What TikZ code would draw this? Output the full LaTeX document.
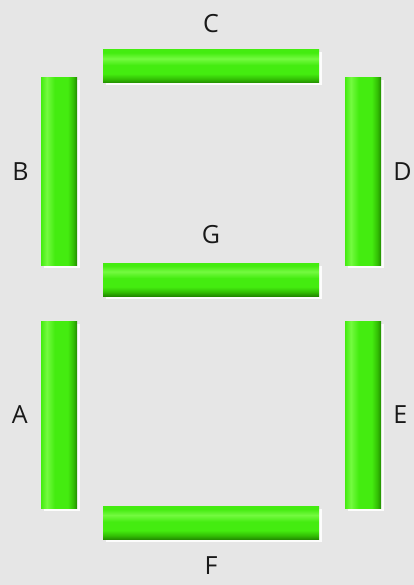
\documentclass[tikz,border=0pt]{standalone}
\usepackage{fontspec}
\setmainfont{Open Sans}
\usetikzlibrary{positioning,shadows}
\definecolor{bg}{HTML}{E6E6E6}
\definecolor{ledhi}{HTML}{74FA40}
\definecolor{led}{HTML}{44EC10}
\definecolor{ledmd}{HTML}{32BE04}
\definecolor{leddk}{HTML}{228A00}
% bars: path spans 25bp..75bp of the shading
\pgfdeclareverticalshading{hled}{100bp}{color(0bp)=(leddk); color(25bp)=(leddk);
  color(31bp)=(ledmd); color(39bp)=(led); color(52bp)=(led); color(62bp)=(ledhi);
  color(71bp)=(led); color(75bp)=(led); color(100bp)=(led)}
\pgfdeclarehorizontalshading{vled}{100bp}{color(0bp)=(led); color(25bp)=(led);
  color(33bp)=(ledhi); color(44bp)=(led); color(62bp)=(led); color(70bp)=(ledmd);
  color(75bp)=(leddk); color(100bp)=(leddk)}
\tikzset{
  seg/.style={rectangle,inner sep=0pt,draw=none,
    drop shadow={fill=white,shadow xshift=2.5pt,shadow yshift=-2.5pt,opacity=0.9}},
  hseg/.style={seg,minimum width=216pt,minimum height=33pt,shading=hled},
  vseg/.style={seg,minimum width=36pt,minimum height=187pt,shading=vled},
  lab/.style={font=\fontsize{25}{27}\selectfont,text=black!90,inner sep=0pt},
}
\begin{document}
\begin{tikzpicture}[x=1pt,y=-1pt]
\fill[bg] (0,0) rectangle (414,585);
\useasboundingbox (0,0) rectangle (414,585);
% segments
\node[hseg] (segC) at (211,66.5) {};
\node[vseg] (segB) at (59,171.5) {};
\node[vseg] (segD) at (363,171.5) {};
\node[hseg] (segG) at (211,279.5) {};
\node[vseg] (segA) at (59,415) {};
\node[vseg] (segE) at (363,415) {};
\node[hseg] (segF) at (211,523) {};
% labels
\node[lab,above=17pt of segC] (labC) {C};
\node[lab,left=12pt of segB] (labB) {B};
\node[lab,right=12pt of segD] (labD) {D};
\node[lab,above=19pt of segG] (labG) {G};
\node[lab,left=13pt of segA] (labA) {A};
\node[lab,right=12pt of segE] (labE) {E};
\node[lab,below=17pt of segF] (labF) {F};
\end{tikzpicture}
\end{document}
